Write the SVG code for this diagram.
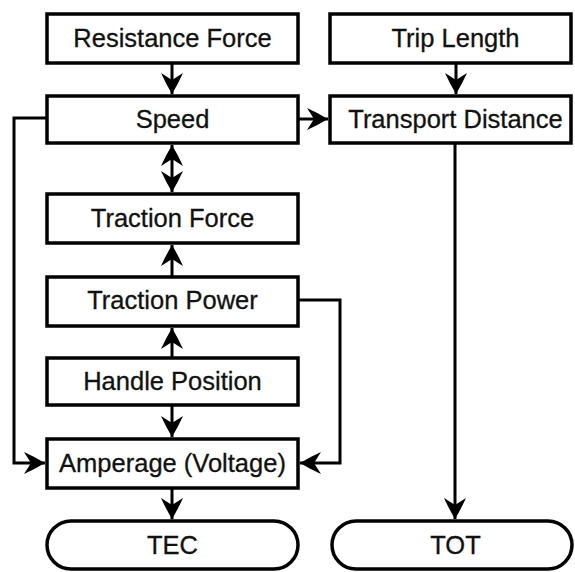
<svg xmlns="http://www.w3.org/2000/svg" width="575" height="572" viewBox="0 0 575 572">
<style>
.box{fill:#fff;stroke:#000;stroke-width:3.5}
.t{font-family:"Liberation Sans",Arial,sans-serif;font-size:25.5px;fill:#111;text-anchor:middle;stroke:#111;stroke-width:0.3}
.c{fill:none;stroke:#000;stroke-width:3}
</style>
<defs>
<marker id="ah" markerUnits="userSpaceOnUse" markerWidth="26" markerHeight="26" viewBox="-24 -13 26 26" refX="0" refY="0" orient="auto-start-reverse">
<path d="M0,0 Q-10,-6 -21,-11 L-14,0 L-21,11 Q-10,6 0,0 Z" fill="#000"/>
</marker>
</defs>
<rect width="575" height="572" fill="#fff"/>
<g id="connectors">
<path class="c" d="M172,63 V94" marker-end="url(#ah)"/>
<path class="c" d="M456,63 V94" marker-end="url(#ah)"/>
<path class="c" d="M298,119 H328" marker-end="url(#ah)"/>
<path class="c" d="M172,145 V192" marker-start="url(#ah)" marker-end="url(#ah)"/>
<path class="c" d="M172,277 V245" marker-end="url(#ah)"/>
<path class="c" d="M172,358 V328" marker-end="url(#ah)"/>
<path class="c" d="M172,405 V437" marker-end="url(#ah)"/>
<path class="c" d="M172,488 V519" marker-end="url(#ah)"/>
<path class="c" d="M47,118 H14 V463 H45" marker-end="url(#ah)"/>
<path class="c" d="M298,300 H340 V463 H300" marker-end="url(#ah)"/>
<path class="c" d="M455,143 V519" marker-end="url(#ah)"/>
</g>
<g id="resistance-force"><rect class="box" x="47" y="14" width="251" height="49"/><text class="t" x="172.5" y="47">Resistance Force</text></g>
<g id="trip-length"><rect class="box" x="330" y="14" width="241" height="49"/><text class="t" x="455.5" y="47">Trip Length</text></g>
<g id="speed"><rect class="box" x="47" y="96" width="251" height="47"/><text class="t" x="172.5" y="128">Speed</text></g>
<g id="transport-distance"><rect class="box" x="330" y="96" width="241" height="47"/><text class="t" x="455.5" y="128">Transport Distance</text></g>
<g id="traction-force"><rect class="box" x="47" y="194" width="251" height="49"/><text class="t" x="172.5" y="227">Traction Force</text></g>
<g id="traction-power"><rect class="box" x="47" y="277" width="251" height="49"/><text class="t" x="172.5" y="309">Traction Power</text></g>
<g id="handle-position"><rect class="box" x="47" y="358" width="251" height="47"/><text class="t" x="172.5" y="390">Handle Position</text></g>
<g id="amperage"><rect class="box" x="47" y="439" width="251" height="49"/><text class="t" x="172.5" y="472">Amperage (Voltage)</text></g>
<g id="tec"><rect class="box" x="47" y="521" width="251" height="48" rx="24" ry="24"/><text class="t" x="172.5" y="554">TEC</text></g>
<g id="tot"><rect class="box" x="332" y="521" width="240" height="48" rx="24" ry="24"/><text class="t" x="455.5" y="554">TOT</text></g>
</svg>
